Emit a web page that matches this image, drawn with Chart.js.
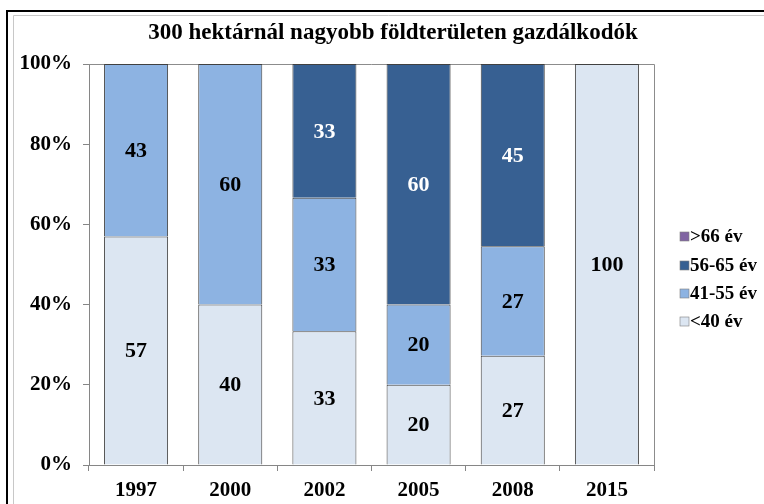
<!DOCTYPE html>
<html>
<head>
<meta charset="utf-8">
<script src="https://cdn.jsdelivr.net/npm/chart.js@4/dist/chart.umd.min.js"></script>
<style>
  html, body { margin: 0; padding: 0; background: #fff; }
  canvas { display: block; }
</style>
</head>
<body>
<canvas id="chart" width="764" height="504"></canvas>
<script>
// values as printed on the bars (Excel 100% stacked -> normalised per year)
const years = ["1997", "2000", "2002", "2005", "2008", "2015"];
const under40 = [57, 40, 33, 20, 27, 100];
const age41to55 = [43, 60, 33, 20, 27, 0];
const age56to65 = [0, 0, 33, 60, 45, 0];
const over66 = [0, 0, 0, 0, 0, 0];
const seriesNames = ["<40 év", "41-55 év", "56-65 év", ">66 év"];
const seriesColors = ["#dce6f2", "#8db3e2", "#376092", "#8064a2"];
const yTicks = [0, 20, 40, 60, 80, 100];
const titleText = "300 hektárnál nagyobb földterületen gazdálkodók";

const raw = [under40, age41to55, age56to65, over66];
const totals = years.map((y, j) => raw.reduce((s, arr) => s + arr[j], 0));
const share = arr => arr.map((v, j) => v / totals[j] * 100);

const serif = "'Liberation Serif', 'Times New Roman', serif";

const decor = {
    id: "decor",
    beforeDraw(chart) {
        const ctx = chart.ctx;
        ctx.save();
        ctx.fillStyle = "#fff";
        ctx.fillRect(0, 0, chart.width, chart.height);
        // outer frame
        ctx.strokeStyle = "#000";
        ctx.lineWidth = 2;
        ctx.beginPath();
        ctx.moveTo(7, chart.height);
        ctx.lineTo(7, 11);
        ctx.lineTo(chart.width, 11);
        ctx.stroke();
        ctx.strokeStyle = "#c8c8c8";
        ctx.lineWidth = 1;
        ctx.beginPath();
        ctx.moveTo(13.5, chart.height);
        ctx.lineTo(13.5, 15.5);
        ctx.lineTo(chart.width, 15.5);
        ctx.stroke();
        ctx.restore();
    },
    beforeDatasetsDraw(chart) {
        const a = chart.chartArea, ctx = chart.ctx;
        ctx.save();
        ctx.strokeStyle = "#8c8c8c";
        ctx.lineWidth = 1;
        ctx.beginPath();
        ctx.moveTo(a.left, Math.round(a.top) + 0.5);
        ctx.lineTo(Math.round(a.right) + 0.5, Math.round(a.top) + 0.5);
        ctx.lineTo(Math.round(a.right) + 0.5, a.bottom);
        ctx.stroke();
        ctx.restore();
    },
    afterDatasetsDraw(chart) {
        const ctx = chart.ctx;
        ctx.save();
        ctx.font = "bold 22px " + serif;
        ctx.textAlign = "center";
        ctx.textBaseline = "middle";
        raw.forEach((arr, i) => {
            const meta = chart.getDatasetMeta(i);
            ctx.fillStyle = i === 2 ? "#fff" : "#000";
            meta.data.forEach((bar, j) => {
                if (!arr[j]) return;
                const p = bar.getProps(["x", "y", "base"], true);
                ctx.fillText(String(arr[j]), p.x, (p.y + p.base) / 2 + 1);
            });
        });
        ctx.restore();
    },
    afterDraw(chart) {
        const ctx = chart.ctx;
        ctx.save();
        ctx.fillStyle = "#000";
        ctx.font = "bold 23px " + serif;
        ctx.textAlign = "center";
        ctx.textBaseline = "middle";
        ctx.fillText(titleText, 393, 33);
        // legend, reversed order like the original
        ctx.font = "bold 19px " + serif;
        ctx.textAlign = "left";
        const rows = [236, 265, 293, 321];
        [3, 2, 1, 0].forEach((i, k) => {
            const y = rows[k];
            ctx.fillStyle = seriesColors[i];
            ctx.fillRect(680, y - 4, 9, 9);
            ctx.strokeStyle = "#7f7f7f";
            ctx.lineWidth = 0.6;
            ctx.strokeRect(680, y - 4, 9, 9);
            ctx.fillStyle = "#000";
            ctx.fillText(seriesNames[i], 690, y + 1);
        });
        ctx.restore();
    }
};

new Chart(document.getElementById("chart"), {
    type: "bar",
    data: {
        labels: years,
        datasets: raw.map((arr, i) => ({
            label: seriesNames[i],
            data: share(arr),
            backgroundColor: seriesColors[i],
            borderColor: "#404040",
            borderWidth: 1,
            barPercentage: 0.68,
            categoryPercentage: 1
        }))
    },
    options: {
        responsive: false,
        animation: false,
        layout: { padding: { top: 64, right: 110, left: 0, bottom: 0 } },
        plugins: {
            legend: { display: false },
            title: { display: false },
            tooltip: { enabled: false }
        },
        scales: {
            x: {
                stacked: true,
                afterFit(scale) { scale.height = 39; },
                grid: { offset: true, drawOnChartArea: false, drawTicks: true, tickLength: 6, color: "#868686" },
                border: { color: "#868686" },
                ticks: { color: "#000", padding: 7, font: { family: serif, size: 21, weight: "bold" } }
            },
            y: {
                stacked: true,
                min: 0,
                max: 100,
                afterFit(scale) { scale.width = 89; },
                afterBuildTicks(scale) { scale.ticks = yTicks.map(v => ({ value: v })); },
                grid: { drawOnChartArea: false, drawTicks: true, tickLength: 6, color: "#868686" },
                border: { color: "#868686" },
                ticks: {
                    color: "#000",
                    padding: 11,
                    font: { family: serif, size: 21, weight: "bold" },
                    callback: v => v + "%"
                }
            }
        }
    },
    plugins: [decor]
});
</script>
</body>
</html>
